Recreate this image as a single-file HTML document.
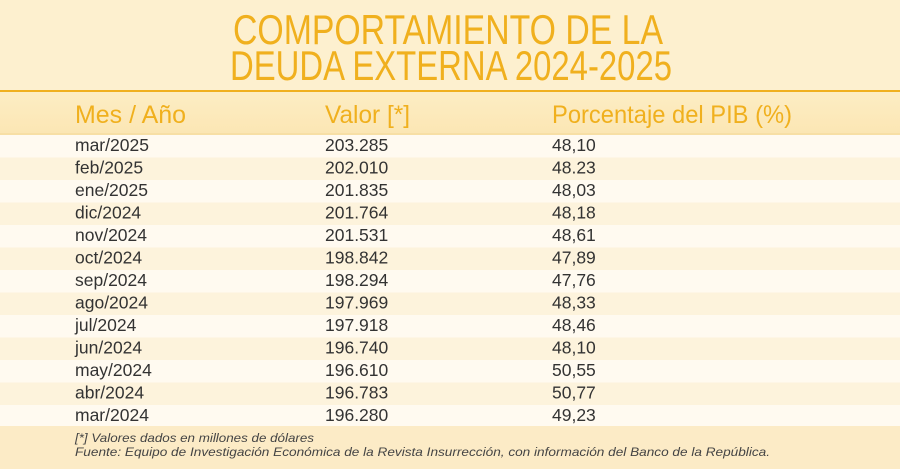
<!DOCTYPE html>
<html><head><meta charset="utf-8"><style>
html,body{margin:0;padding:0;width:900px;height:469px;overflow:hidden;background:#fdf0cf}
svg{display:block}
</style></head><body>
<svg width="900" height="469" viewBox="0 0 900 469" xmlns="http://www.w3.org/2000/svg" font-family="Liberation Sans, sans-serif">
<defs>
<linearGradient id="hd" x1="0" y1="0" x2="0" y2="1"><stop offset="0" stop-color="#fdedc4"/><stop offset="1" stop-color="#fbe6b3"/></linearGradient>
</defs>
<rect x="0" y="0" width="900" height="91" fill="#fdf0cf"/>
<rect x="0" y="90" width="900" height="2" fill="#f0b020"/>
<rect x="0" y="92" width="900" height="43" fill="url(#hd)"/>
<rect x="0" y="133" width="900" height="2" fill="#f7dfa5"/>
<g>
<rect x="0" y="135" width="900" height="22.5" fill="#fffaf0"/>
<rect x="0" y="157.5" width="900" height="22.5" fill="#fdf3dc"/>
<rect x="0" y="180" width="900" height="22.5" fill="#fffaf0"/>
<rect x="0" y="202.5" width="900" height="22.5" fill="#fdf3dc"/>
<rect x="0" y="225" width="900" height="22.5" fill="#fffaf0"/>
<rect x="0" y="247.5" width="900" height="22.5" fill="#fdf3dc"/>
<rect x="0" y="270" width="900" height="22.5" fill="#fffaf0"/>
<rect x="0" y="292.5" width="900" height="22.5" fill="#fdf3dc"/>
<rect x="0" y="315" width="900" height="22.5" fill="#fffaf0"/>
<rect x="0" y="337.5" width="900" height="22.5" fill="#fdf3dc"/>
<rect x="0" y="360" width="900" height="22.5" fill="#fffaf0"/>
<rect x="0" y="382.5" width="900" height="22.5" fill="#fdf3dc"/>
<rect x="0" y="405" width="900" height="21" fill="#fffaf0"/>
</g>
<rect x="0" y="426" width="900" height="43" fill="#fcebc6"/>
<g fill="#f0b01e" font-size="42">
<text x="233" y="44" textLength="430" lengthAdjust="spacingAndGlyphs">COMPORTAMIENTO DE LA</text>
<text x="230" y="80" textLength="442" lengthAdjust="spacingAndGlyphs">DEUDA EXTERNA 2024-2025</text>
</g>
<g fill="#f0b01e" font-size="25">
<text x="75" y="123" textLength="111" lengthAdjust="spacingAndGlyphs">Mes / Año</text>
<text x="325" y="123" textLength="85" lengthAdjust="spacingAndGlyphs">Valor [*]</text>
<text x="552" y="123" textLength="240" lengthAdjust="spacingAndGlyphs">Porcentaje del PIB (%)</text>
</g>
<g fill="#333" font-size="17.5">
<text x="75" y="151">mar/2025</text><text x="325" y="151">203.285</text><text x="552" y="151">48,10</text>
<text x="75" y="173.5">feb/2025</text><text x="325" y="173.5">202.010</text><text x="552" y="173.5">48.23</text>
<text x="75" y="196">ene/2025</text><text x="325" y="196">201.835</text><text x="552" y="196">48,03</text>
<text x="75" y="218.5">dic/2024</text><text x="325" y="218.5">201.764</text><text x="552" y="218.5">48,18</text>
<text x="75" y="241">nov/2024</text><text x="325" y="241">201.531</text><text x="552" y="241">48,61</text>
<text x="75" y="263.5">oct/2024</text><text x="325" y="263.5">198.842</text><text x="552" y="263.5">47,89</text>
<text x="75" y="286">sep/2024</text><text x="325" y="286">198.294</text><text x="552" y="286">47,76</text>
<text x="75" y="308.5">ago/2024</text><text x="325" y="308.5">197.969</text><text x="552" y="308.5">48,33</text>
<text x="75" y="331">jul/2024</text><text x="325" y="331">197.918</text><text x="552" y="331">48,46</text>
<text x="75" y="353.5">jun/2024</text><text x="325" y="353.5">196.740</text><text x="552" y="353.5">48,10</text>
<text x="75" y="376">may/2024</text><text x="325" y="376">196.610</text><text x="552" y="376">50,55</text>
<text x="75" y="398.5">abr/2024</text><text x="325" y="398.5">196.783</text><text x="552" y="398.5">50,77</text>
<text x="75" y="421">mar/2024</text><text x="325" y="421">196.280</text><text x="552" y="421">49,23</text>
</g>
<g fill="#444" font-size="12" font-style="italic">
<text x="75" y="442" textLength="239" lengthAdjust="spacingAndGlyphs">[*] Valores dados en millones de dólares</text>
<text x="75" y="456" textLength="695" lengthAdjust="spacingAndGlyphs">Fuente: Equipo de Investigación Económica de la Revista Insurrección, con información del Banco de la República.</text>
</g>
</svg>
</body></html>
